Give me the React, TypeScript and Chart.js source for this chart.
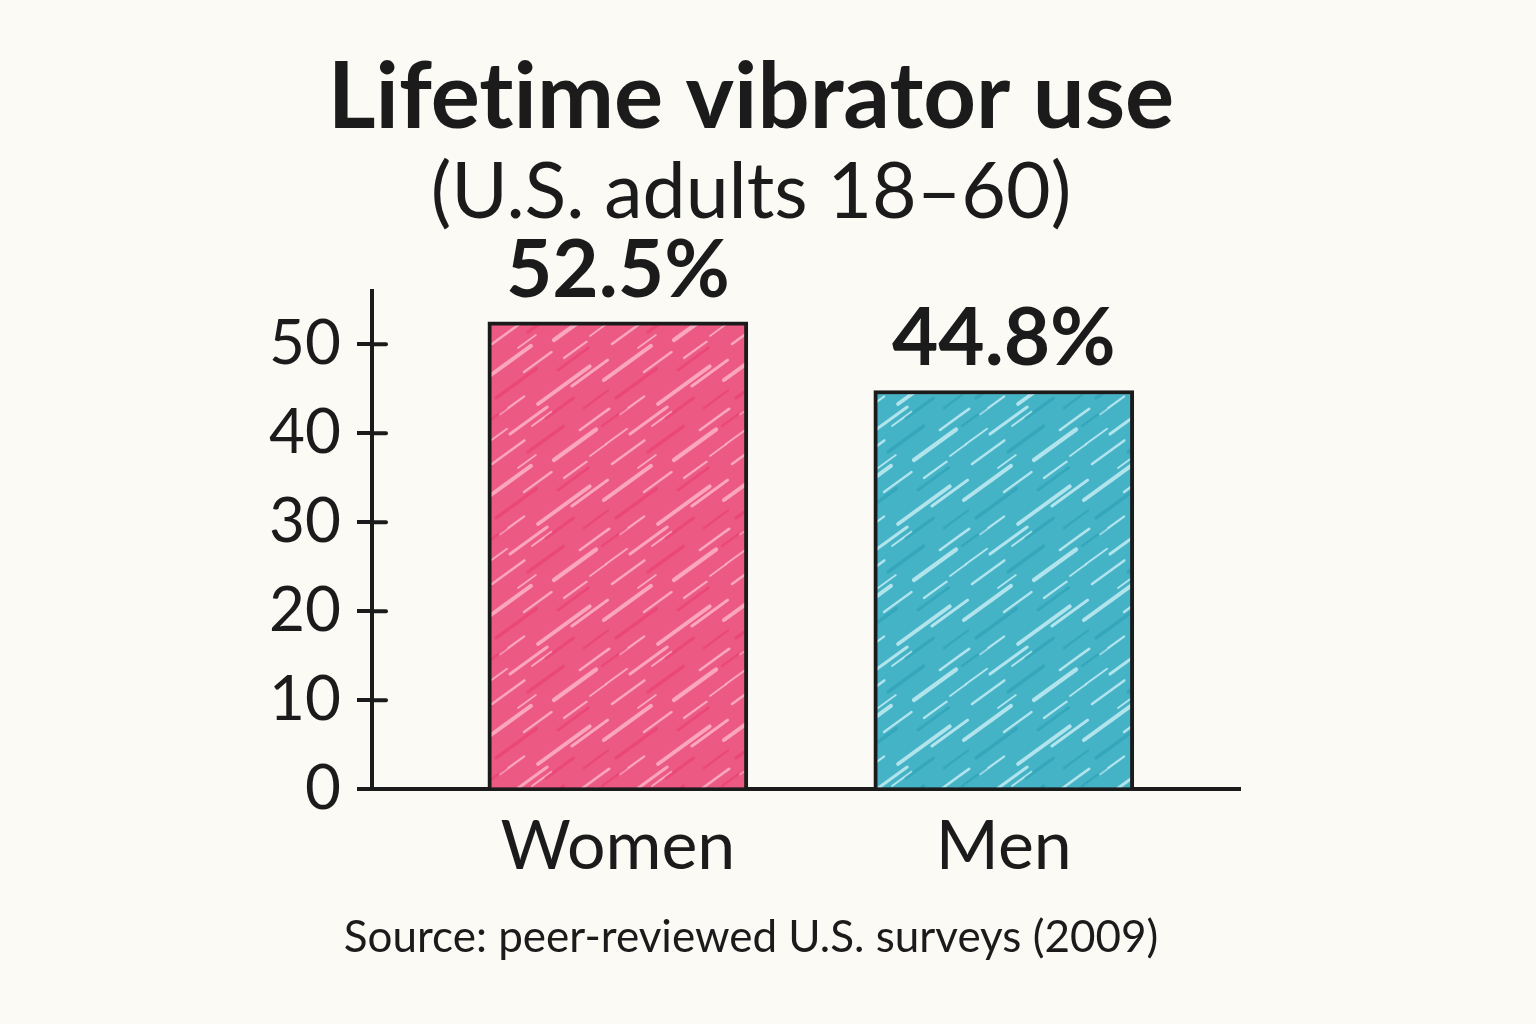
import { useEffect, useRef } from "react";
import { Chart, registerables } from "chart.js";

Chart.register(...registerables);

// ---- data ----
const categories = ["Women", "Men"];
const lifetimeUse = [52.5, 44.8];
const valueLabels = ["52.5%", "44.8%"];
const yTickValues = [0, 10, 20, 30, 40, 50];
const titleText = "Lifetime vibrator use";
const subtitleText = "(U.S. adults 18–60)";
const sourceText = "Source: peer-reviewed U.S. surveys (2009)";

// ---- look ----
const INK = "#1b1b1b";
const PAPER = "#fbfaf5";
const FONT = "Lato, 'Open Sans', sans-serif";
const PINK = { base: "#ec5a83", light: "rgba(255,196,212,0.72)", dark: "rgba(232,52,104,0.45)" };
const TEAL = { base: "#45b3c6", light: "rgba(214,244,249,0.75)", dark: "rgba(30,150,172,0.4)" };

// short crayon strokes on a 120px tile: [x, y, length, width, kind] (kind 1 = light, 0 = dark)
const STREAKS: number[][] = [
  [4, 20, 58, 4, 1], [30, 74, 46, 3, 1], [58, 44, 64, 3.8, 1], [12, 104, 40, 2.6, 1],
  [74, 100, 52, 4.2, 1], [44, 12, 34, 2.4, 1], [92, 26, 44, 3, 1], [20, 54, 30, 2.2, 1],
  [52, 66, 24, 2, 1], [100, 70, 36, 2.6, 1], [84, 118, 28, 2.2, 1], [6, 84, 26, 2, 1],
  [38, 108, 22, 1.8, 1], [110, 96, 20, 1.8, 1],
  [16, 38, 50, 3.4, 0], [48, 92, 44, 3.4, 0], [78, 10, 38, 2.8, 0], [66, 58, 34, 3, 0],
  [2, 66, 30, 2.4, 0], [104, 48, 30, 2.4, 0],
];

function crayonPattern(c: { base: string; light: string; dark: string }): CanvasPattern | string {
  const size = 120;
  const cv = document.createElement("canvas");
  cv.width = size;
  cv.height = size;
  const g = cv.getContext("2d");
  if (!g) return c.base;
  g.fillStyle = c.base;
  g.fillRect(0, 0, size, size);
  g.lineCap = "round";
  const dx = Math.cos((-36 * Math.PI) / 180);
  const dy = Math.sin((-36 * Math.PI) / 180);
  for (const [x, y, len, w, kind] of STREAKS) {
    g.strokeStyle = kind ? c.light : c.dark;
    g.lineWidth = w;
    for (const ox of [-size, 0, size]) {
      for (const oy of [-size, 0, size]) {
        g.beginPath();
        g.moveTo(x + ox, y + oy);
        g.lineTo(x + ox + dx * len, y + oy + dy * len);
        g.stroke();
      }
    }
  }
  return g.createPattern(cv, "repeat") || c.base;
}

// plain glyphs, no ligatures
const plainText = {
  id: "plainText",
  beforeDraw(chart: any) {
    try {
      chart.ctx.textRendering = "optimizeSpeed";
    } catch (e) {
      /* older canvas */
    }
  },
};

// tick marks that cross the y axis into the plot
const crossTicks = {
  id: "crossTicks",
  afterDraw(chart: any) {
    const y = chart.scales.y;
    const { ctx, chartArea } = chart;
    ctx.save();
    ctx.strokeStyle = INK;
    ctx.lineWidth = 4;
    ctx.lineCap = "round";
    for (const v of yTickValues) {
      if (v === 0) continue;
      const py = y.getPixelForValue(v);
      ctx.beginPath();
      ctx.moveTo(chartArea.left, py);
      ctx.lineTo(chartArea.left + 14, py);
      ctx.stroke();
    }
    ctx.restore();
  },
};

// percentage labels above the bars
const barValues = {
  id: "barValues",
  afterDatasetsDraw(chart: any) {
    const { ctx } = chart;
    const meta = chart.getDatasetMeta(0);
    ctx.save();
    ctx.fillStyle = INK;
    ctx.font = `700 80px ${FONT}`;
    ctx.textAlign = "center";
    ctx.textBaseline = "alphabetic";
    meta.data.forEach((bar: any, i: number) => {
      ctx.fillText(valueLabels[i], bar.x, bar.y - 25);
    });
    ctx.restore();
  },
};

// source note under the axis
const sourceNote = {
  id: "sourceNote",
  afterDraw(chart: any) {
    const { ctx } = chart;
    const tb = chart.titleBlock;
    const cx = tb ? (tb.left + tb.right) / 2 : chart.width / 2;
    ctx.save();
    ctx.fillStyle = INK;
    ctx.font = `400 44px ${FONT}`;
    ctx.textAlign = "center";
    ctx.textBaseline = "alphabetic";
    ctx.fillText(sourceText, cx, chart.chartArea.bottom + 163);
    ctx.restore();
  },
};

export default function App() {
  const ref = useRef<HTMLCanvasElement | null>(null);

  useEffect(() => {
    document.body.style.margin = "0";
    document.body.style.background = PAPER;
    const canvas = ref.current;
    if (!canvas) return;

    const chart = new Chart(canvas, {
      type: "bar",
      data: {
        datasets: [
          {
            label: "Lifetime vibrator use (%)",
            data: categories.map((_, i) => ({ x: i, y: lifetimeUse[i] })),
            backgroundColor: [crayonPattern(PINK), crayonPattern(TEAL)],
            borderColor: INK,
            borderWidth: 4,
            borderSkipped: "bottom",
            barThickness: 260,
          },
        ],
      },
      plugins: [plainText, crossTicks, barValues, sourceNote],
      options: {
        responsive: false,
        animation: false,
        devicePixelRatio: 1,
        layout: { padding: { left: 262, right: 296, top: 0, bottom: 119 } },
        plugins: {
          legend: { display: false },
          tooltip: { enabled: false },
          title: {
            display: true,
            text: titleText,
            color: INK,
            font: { family: FONT, size: 92, weight: "bold", lineHeight: 1.1 },
            padding: { top: 48, bottom: 0 },
          },
          subtitle: {
            display: true,
            text: subtitleText,
            color: INK,
            font: { family: FONT, size: 77, weight: "normal", lineHeight: 1.15 },
            padding: { top: 0, bottom: 53 },
          },
        },
        scales: {
          x: {
            type: "linear",
            offset: false,
            min: -0.637,
            max: 1.612,
            grid: { display: false, drawTicks: false },
            border: { display: true, color: INK, width: 4 },
            afterBuildTicks: (scale: any) => {
              scale.ticks = categories.map((_, i) => ({ value: i }));
            },
            ticks: {
              color: INK,
              font: { family: FONT, size: 68, weight: "normal" },
              padding: 17,
              callback: (v: any) => categories[v] ?? "",
            },
          },
          y: {
            min: 0,
            max: 56,
            afterFit: (scale: any) => {
              scale.width = 110;
            },
            afterBuildTicks: (scale: any) => {
              scale.ticks = yTickValues.map((v) => ({ value: v }));
            },
            grid: {
              display: true,
              drawOnChartArea: false,
              drawTicks: true,
              tickLength: 15,
              color: INK,
              lineWidth: 4,
            },
            border: { display: true, color: INK, width: 4 },
            ticks: {
              color: INK,
              font: { family: FONT, size: 62, weight: "normal" },
              padding: 16,
            },
          },
        },
      },
    } as any);

    return () => chart.destroy();
  }, []);

  return (
    <div style={{ width: 1536, height: 1024, background: PAPER }}>
      <canvas ref={ref} width={1536} height={1024} style={{ display: "block", width: 1536, height: 1024 }} />
    </div>
  );
}
